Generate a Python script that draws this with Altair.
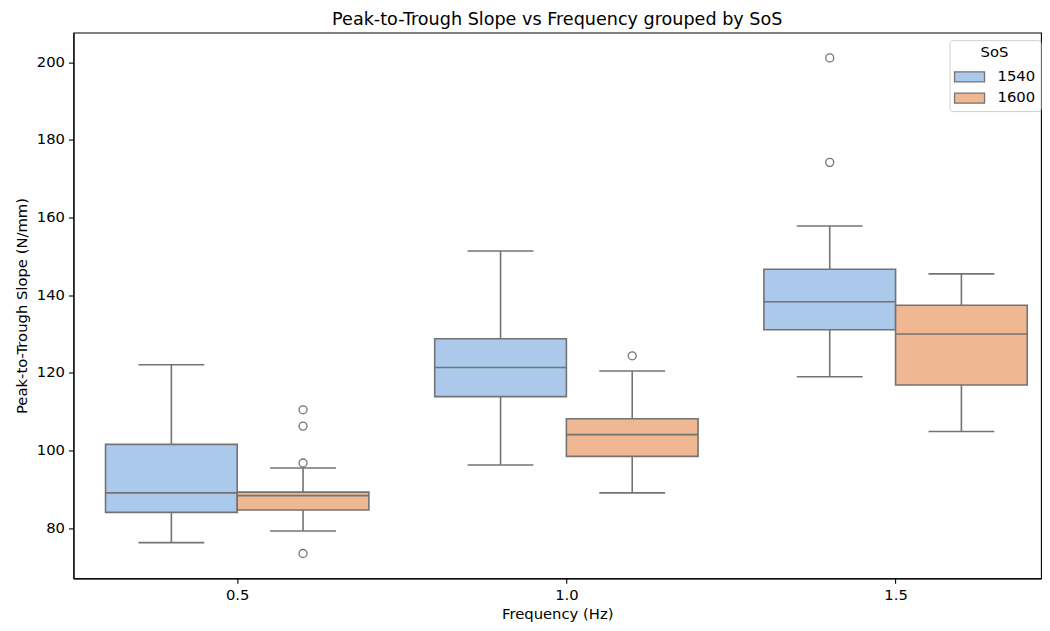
import altair as alt
import pandas as pd

# ---- data ----
freq = [0.5, 0.5, 1.0, 1.0, 1.5, 1.5]
sos = ["1540", "1600", "1540", "1600", "1540", "1600"]
whisk_lo = [76.3, 79.3, 96.3, 89.1, 119.0, 104.9]
q1 = [84.1, 84.7, 113.9, 98.5, 131.1, 116.9]
median = [89.1, 88.4, 121.4, 104.1, 138.3, 130.0]
q3 = [101.6, 89.3, 128.8, 108.2, 146.7, 137.4]
whisk_hi = [122.1, 95.5, 151.4, 120.5, 157.8, 145.5]

out_freq = [0.5, 0.5, 0.5, 0.5, 1.0, 1.5, 1.5]
out_sos = ["1600", "1600", "1600", "1600", "1600", "1540", "1540"]
out_val = [110.5, 106.3, 96.8, 73.5, 124.4, 201.1, 174.2]

hue_levels = ["1540", "1600"]
hue_colors = ["#abc9ea", "#efb792"]
x_ticks = [0.5, 1.0, 1.5]
y_ticks = [80, 100, 120, 140, 160, 180, 200]

LINE = "#737373"
BOXW = 0.2  # width of each hue box in x units (0.8 of the 0.5 category step, split in two)
FS = 14.8

boxes = pd.DataFrame({"freq": freq, "sos": sos, "lo": whisk_lo, "q1": q1,
                      "med": median, "q3": q3, "hi": whisk_hi})
boxes["idx"] = boxes["sos"].map({h: i for i, h in enumerate(hue_levels)})
boxes["x0"] = boxes["freq"] - BOXW + boxes["idx"] * BOXW
boxes["x1"] = boxes["x0"] + BOXW
boxes["xc"] = boxes["x0"] + BOXW / 2
boxes["c0"] = boxes["xc"] - BOXW / 4
boxes["c1"] = boxes["xc"] + BOXW / 4

outl = pd.DataFrame({"freq": out_freq, "sos": out_sos, "val": out_val})
outl["idx"] = outl["sos"].map({h: i for i, h in enumerate(hue_levels)})
outl["xc"] = outl["freq"] - BOXW + outl["idx"] * BOXW + BOXW / 2

xscale = alt.Scale(domain=[0.2513, 1.7209], nice=False, zero=False)
yscale = alt.Scale(domain=[67.1, 207.6], nice=False, zero=False)
xaxis = alt.Axis(values=x_ticks, format=".1f", title="Frequency (Hz)")
yaxis = alt.Axis(values=y_ticks, format="d", title="Peak-to-Trough Slope (N/mm)")

base = alt.Chart(boxes)

whisker = base.mark_rule(color=LINE, strokeWidth=1.6).encode(
    x=alt.X("xc:Q", scale=xscale, axis=xaxis),
    y=alt.Y("lo:Q", scale=yscale, axis=yaxis),
    y2="hi:Q",
)
cap_lo = base.mark_rule(color=LINE, strokeWidth=1.6).encode(
    x=alt.X("c0:Q", scale=xscale), x2="c1:Q", y=alt.Y("lo:Q", scale=yscale))
cap_hi = base.mark_rule(color=LINE, strokeWidth=1.6).encode(
    x=alt.X("c0:Q", scale=xscale), x2="c1:Q", y=alt.Y("hi:Q", scale=yscale))

box = base.mark_rect(stroke=LINE, strokeWidth=1.6).encode(
    x=alt.X("x0:Q", scale=xscale), x2="x1:Q",
    y=alt.Y("q1:Q", scale=yscale), y2="q3:Q",
    color=alt.Color(
        "sos:N",
        scale=alt.Scale(domain=hue_levels, range=hue_colors),
        legend=alt.Legend(
            title="SoS", orient="none", legendX=876.5, legendY=7.5,
            fillColor="white", strokeColor="#d0d0d0", cornerRadius=3,
            padding=5, titleAnchor="middle", titleFontWeight="normal",
            titleFontSize=FS, labelFontSize=FS, titleColor="black",
            labelColor="black", symbolType="M-1.5,-0.5H1.5V0.5H-1.5Z",
            symbolSize=400, symbolStrokeColor=LINE, symbolStrokeWidth=1.3,
            symbolOpacity=1, symbolOffset=4, rowPadding=2.3, labelOffset=17,
            titlePadding=6,
        ),
    ),
)
med_rule = base.mark_rule(color=LINE, strokeWidth=1.6).encode(
    x=alt.X("x0:Q", scale=xscale), x2="x1:Q", y=alt.Y("med:Q", scale=yscale))

fliers = alt.Chart(outl).mark_point(
    shape="circle", filled=False, color=LINE, strokeWidth=1.3, size=64, opacity=1
).encode(x=alt.X("xc:Q", scale=xscale), y=alt.Y("val:Q", scale=yscale))

chart = (
    alt.layer(whisker, cap_lo, cap_hi, box, med_rule, fliers)
    .properties(
        width=968, height=546,
        autosize=alt.AutoSizeParams(type="none"),
        padding={"left": 65.5, "top": 24.5, "right": 1, "bottom": 45},
        title=alt.TitleParams(
            "Peak-to-Trough Slope vs Frequency grouped by SoS",
            fontSize=17.6, fontWeight="normal", color="black", anchor="middle", offset=4,
        ),
    )
    .configure(font="DejaVu Sans")
    .configure_view(stroke="black", strokeWidth=1.1)
    .configure_axis(
        domainColor="black", domainWidth=1.1, tickColor="black", tickWidth=1.1,
        tickSize=5, labelPadding=4, labelColor="black", titleColor="black",
        labelFontSize=FS, titleFontSize=FS, titleFontWeight="normal", grid=False,
    )
    .configure_axisY(titlePadding=7)
    .configure_axisX(titlePadding=4)
)

chart.save("out.html", embed_options={"renderer": "svg", "actions": False})
